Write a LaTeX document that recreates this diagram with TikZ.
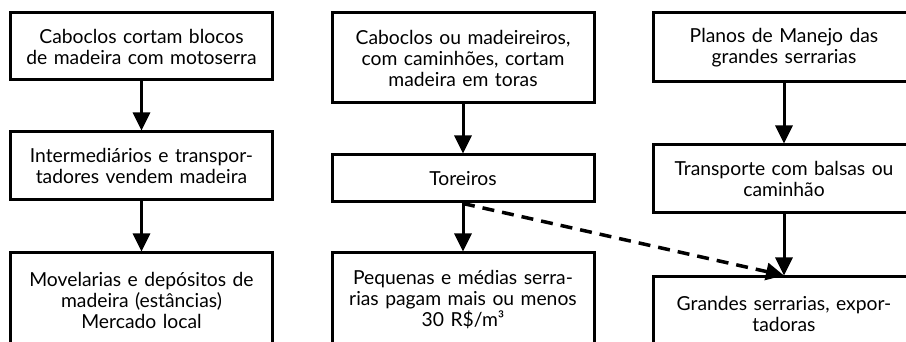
\documentclass[tikz,border=0pt]{standalone}
\usepackage{fontspec}
\setmainfont{Lato}
\usepackage{tikz}
\usetikzlibrary{arrows.meta, positioning}

\tikzset{
  stage/.style={draw, line width=3pt, inner sep=0pt, minimum width=262pt,
    text width=258pt, align=center, font=\fontsize{19.3}{21}\selectfont},
  flow/.style={line width=3pt, -{Triangle[length=18pt, width=17pt]}},
  sideflow/.style={flow, line width=3.5pt, dash pattern=on 12pt off 8pt}
}

\begin{document}
\begin{tikzpicture}[x=1pt, y=1pt]
\useasboundingbox (0,0) rectangle (906,342);
\clip (0,0) rectangle (906,342);

% caboclos, local market
\node[stage, minimum height=67pt] (cab) at (141.5,295.5) {Caboclos cortam blocos\\de madeira com motoserra};
\node[stage, minimum height=68pt] (inter) at (141.5,176) {Intermediários e transpor-\\tadores vendem madeira};
\node[stage, minimum height=94pt] (movel) at (141.5,42) {Movelarias e depósitos de\\madeira (estâncias)\\Mercado local};

% toreiros
\node[stage, minimum height=90pt] (mad) at (463,284) {Caboclos ou madeireiros,\\com caminhões, cortam\\madeira em toras};
\node[stage, minimum height=47pt] (tor) at (463,163.5) {Toreiros};
\node[stage, minimum height=94pt] (peq) at (463,42) {Pequenas e médias serra-\\rias pagam mais ou menos\\30 R\$/m³};

% big sawmills
\node[stage, minimum height=69pt] (plan) at (784,294.5) {Planos de Manejo das\\grandes serrarias};
\node[stage, minimum height=68pt] (trans) at (784,163) {Transporte com balsas ou\\caminhão};
\node[stage, minimum height=74pt] (grand) at (784,28) {Grandes serrarias, expor-\\tadoras};

\draw[flow] (cab) -- (inter);
\draw[flow] (inter) -- (movel);
\draw[flow] (mad) -- (tor);
\draw[flow] (tor) -- (peq);
\draw[flow] (plan) -- (trans);
\draw[flow] (trans) -- (grand);
\draw[sideflow] (tor.south) -- (grand.north);
\end{tikzpicture}
\end{document}
